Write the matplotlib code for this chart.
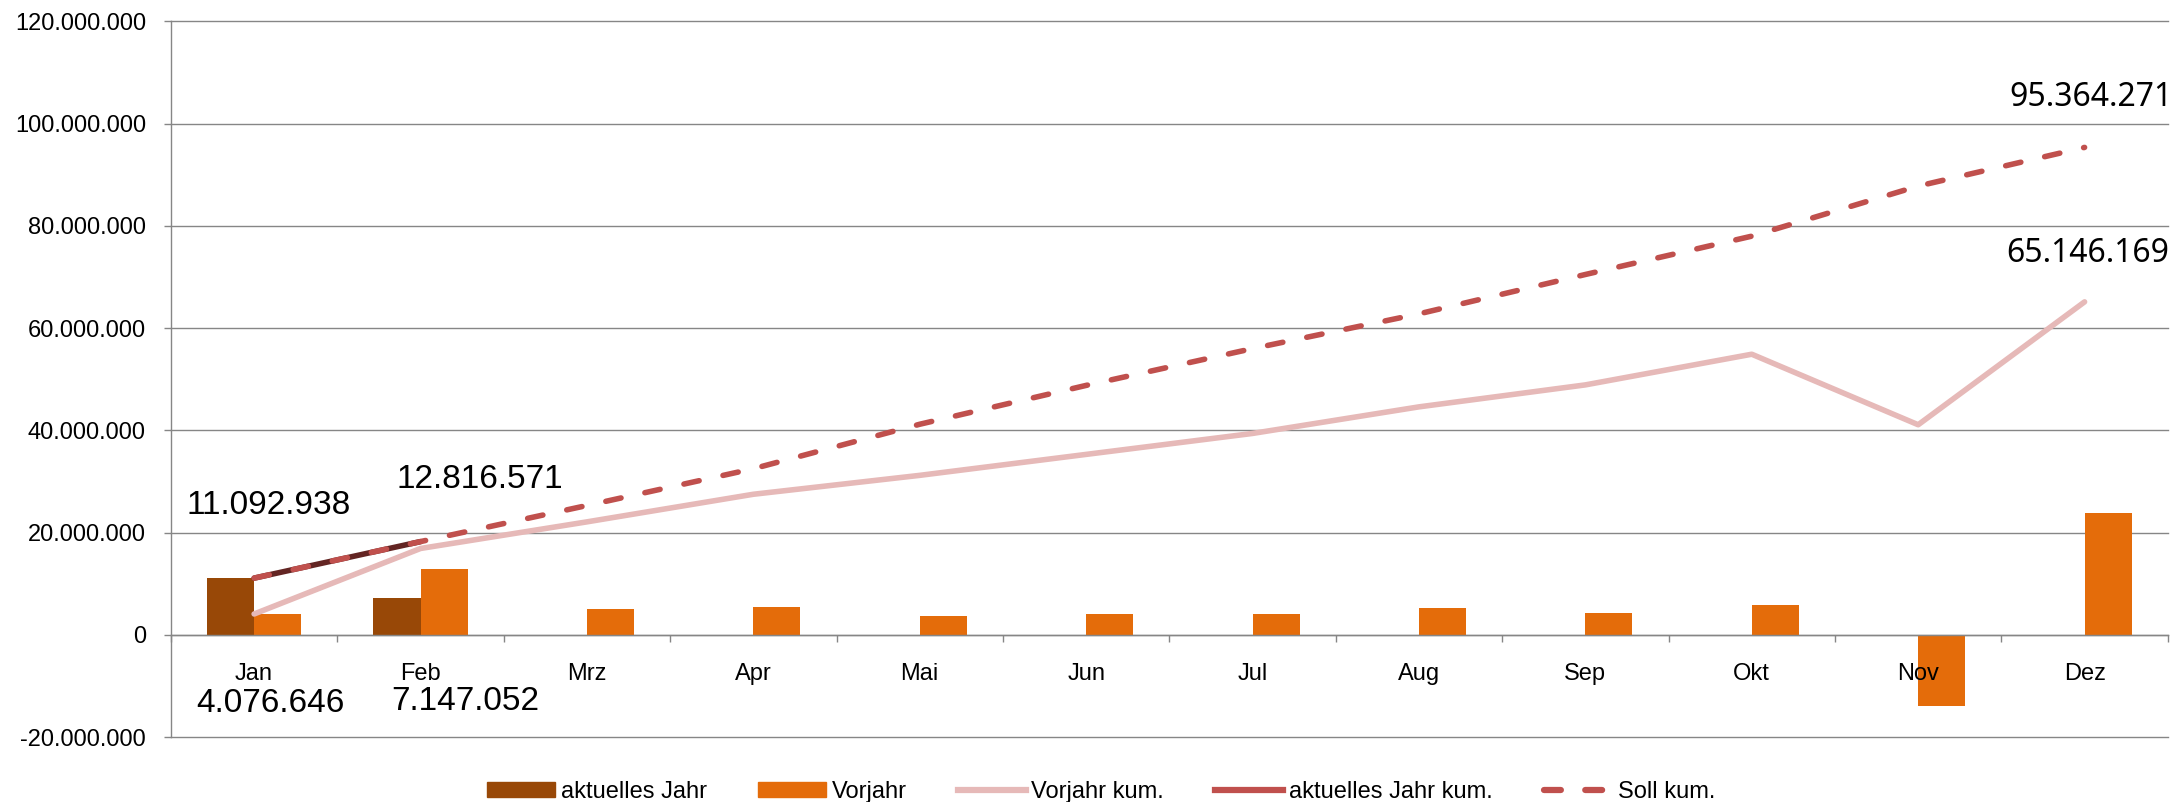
import matplotlib
matplotlib.use("Agg")
import matplotlib.pyplot as plt
import matplotlib.ticker as mticker
from matplotlib.lines import Line2D
from matplotlib.patches import Patch
import numpy as np

matplotlib.rcParams["font.family"] = "sans-serif"
matplotlib.rcParams["font.sans-serif"] = ["Liberation Sans", "DejaVu Sans"]

# ------------------------------------------------------------
# Data
# ------------------------------------------------------------
MONTHS = ["Jan", "Feb", "Mrz", "Apr", "Mai", "Jun",
          "Jul", "Aug", "Sep", "Okt", "Nov", "Dez"]

AKTUELL = [11092938, 7147052]
VORJAHR = [4076646, 12816571, 5100000, 5400000, 3700000, 4000000,
           4050000, 5200000, 4300000, 5900000, -13900000, 23800000]
VORJAHR_KUM = [4076646, 16893217, 22100000, 27500000, 31200000, 35300000,
               39400000, 44600000, 48900000, 54900000, 41100000, 65146169]
AKTUELL_KUM = [11092938, 18239990]
SOLL_KUM = [11092938, 18239990, 25300000, 32500000, 41200000, 48800000,
            56000000, 62800000, 70500000, 78000000, 87800000, 95364271]

C_AKT = "#984807"
C_VJ = "#E46C0A"
C_VJ_KUM = "#E6B9B8"
C_AKT_KUM = "#632523"
C_SOLL = "#C0504D"
C_GRID = "#868686"


def fmt_de(v, pos=None):
    return f"{v:,.0f}".replace(",", ".")


fig = plt.figure(figsize=(21.8, 8.02), dpi=100)
ax = fig.add_axes([0.0784, 0.081, 0.916, 0.8922])

x = np.arange(len(MONTHS))
w = 0.283
ax.bar(x[:len(AKTUELL)] - w / 2, AKTUELL, w, color=C_AKT, zorder=1)
ax.bar(x + w / 2, VORJAHR, w, color=C_VJ, zorder=1)

LW = 4.0
ax.plot(x, VORJAHR_KUM, color=C_VJ_KUM, lw=LW, zorder=3,
        solid_capstyle="round", solid_joinstyle="round")
ax.plot(x[:len(AKTUELL_KUM)], AKTUELL_KUM, color=C_AKT_KUM, lw=LW, zorder=3,
        solid_capstyle="round")
ax.plot(x, SOLL_KUM, color=C_SOLL, lw=LW, zorder=4, linestyle=(0, (2.8, 4.4)),
        dash_capstyle="round")

# data labels (placed as in the original, manually moved)
big = dict(fontsize=24, ha="center", va="center", textcoords="offset pixels")
ax.annotate(fmt_de(AKTUELL_KUM[0]), (x[0], AKTUELL_KUM[0]), xytext=(15, 73), **big)
ax.annotate(fmt_de(VORJAHR[1]), (x[1] + w / 2, VORJAHR[1]), xytext=(36, 90), **big)
ax.annotate(fmt_de(VORJAHR[0]), (x[0] + w / 2, VORJAHR[0]), xytext=(-7, -90), **big)
ax.annotate(fmt_de(AKTUELL[1]), (x[1] - w / 2, AKTUELL[1]), xytext=(68, -103), **big)
right = dict(fontsize=23, ha="center", va="center", textcoords="offset pixels",
             family="Noto Sans")
ax.annotate(fmt_de(SOLL_KUM[-1]), (x[-1], SOLL_KUM[-1]), xytext=(6, 50), **right)
ax.annotate(fmt_de(VORJAHR_KUM[-1]), (x[-1], VORJAHR_KUM[-1]), xytext=(3, 48), **right)

# axes styling
ax.set_xlim(-0.5, len(MONTHS) - 0.5)
ax.set_ylim(-20000000, 120000000)
ax.yaxis.set_major_locator(mticker.MultipleLocator(20000000))
ax.yaxis.set_major_formatter(mticker.FuncFormatter(fmt_de))
ax.set_xticks(x)
ax.set_xticklabels(MONTHS)
ax.set_xticks(np.arange(-0.5, len(MONTHS) + 0.5, 1.0), minor=True)
ax.tick_params(axis="x", which="major", length=0, pad=20, labelsize=17)
ax.tick_params(axis="x", which="minor", length=5, width=1.0, color=C_GRID, direction="out")
ax.tick_params(axis="y", length=5, width=1.0, color=C_GRID, pad=13, labelsize=17)

ax.grid(axis="y", color=C_GRID, lw=1.0)
ax.set_axisbelow(True)
ax.xaxis.set_zorder(2.5)
for gl in ax.get_ygridlines():
    gl.set_clip_on(False)
for s in ["top", "right"]:
    ax.spines[s].set_visible(False)
ax.spines["bottom"].set_position(("data", 0))
ax.spines["bottom"].set_color(C_GRID)
ax.spines["bottom"].set_linewidth(1.0)
ax.spines["left"].set_color(C_GRID)
ax.spines["left"].set_linewidth(1.0)

handles = [
    Patch(color=C_AKT, label="aktuelles Jahr"),
    Patch(color=C_VJ, label="Vorjahr"),
    Line2D([], [], color=C_VJ_KUM, lw=4.5, label="Vorjahr kum."),
    Line2D([], [], color=C_SOLL, lw=4.5, label="aktuelles Jahr kum."),
    Line2D([], [], color=C_SOLL, lw=4.5, linestyle=(0, (2.7, 3.9)), dash_capstyle="round",
           label="Soll kum."),
]
fig.legend(handles=handles, loc="center", bbox_to_anchor=(0.505, 0.0125), ncol=5,
           frameon=False, fontsize=17, handlelength=2.88, handletextpad=0.25,
           columnspacing=2.16, handleheight=0.6)

fig.savefig("out.png", dpi=100)
